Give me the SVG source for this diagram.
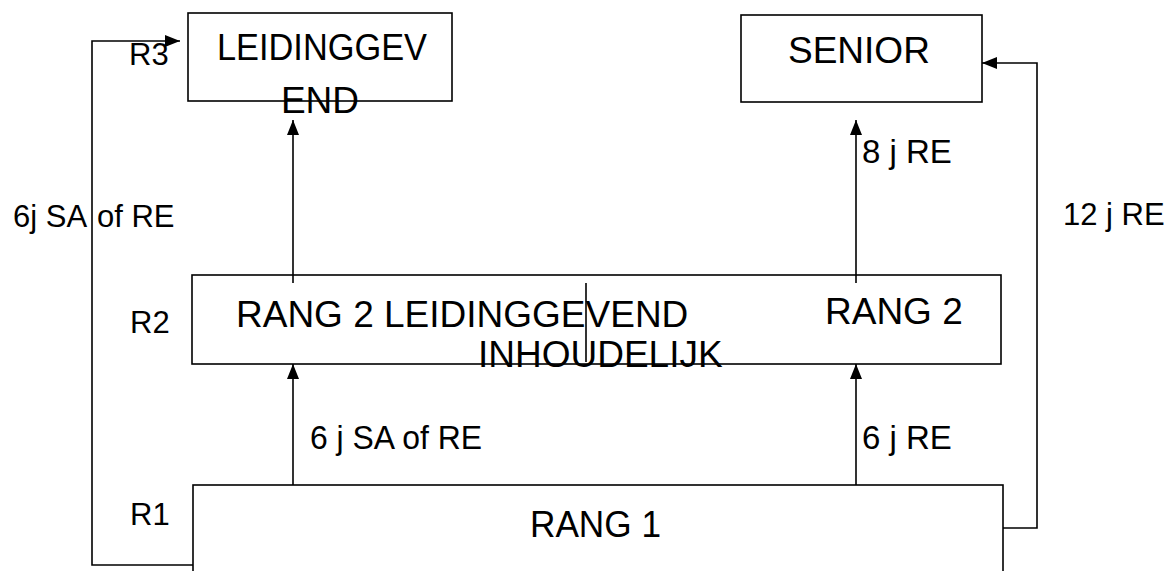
<svg xmlns="http://www.w3.org/2000/svg" width="1170" height="571" viewBox="0 0 1170 571">
  <style>
    .box { fill: #ffffff; stroke: #000000; stroke-width: 1.6; }
    .line { fill: none; stroke: #000000; stroke-width: 1.6; }
    .big { font-family: "Liberation Sans", Arial, sans-serif; font-size: 37px; fill: #000000; }
    .mid { text-anchor: middle; }
    .lbl { font-family: "Liberation Sans", Arial, sans-serif; font-size: 31px; fill: #000000; }
    .lbl2 { font-family: "Liberation Sans", Arial, sans-serif; font-size: 33px; fill: #000000; }
  </style>
  <defs>
    <marker id="head" viewBox="0 0 15 12" refX="15" refY="6" markerWidth="15" markerHeight="12" markerUnits="userSpaceOnUse" orient="auto">
      <path d="M0,0 L15,6 L0,12 Z" fill="#000000"/>
    </marker>
  </defs>

  <rect width="1170" height="571" fill="#ffffff"/>

  <!-- rank 3: management -->
  <g id="node-leidinggevend">
    <rect class="box" x="188" y="13" width="264" height="88"/>
    <text class="big mid" x="322" y="60" textLength="210" lengthAdjust="spacingAndGlyphs">LEIDINGGEV</text>
    <text class="big mid" x="320" y="113">END</text>
  </g>

  <!-- rank 3: senior -->
  <g id="node-senior">
    <rect class="box" x="741" y="15" width="241" height="87"/>
    <text class="big" x="788" y="63">SENIOR</text>
  </g>

  <!-- rank 2 -->
  <g id="node-rang2">
    <rect class="box" x="192" y="275" width="809" height="89"/>
    <text class="big" x="236" y="327">RANG 2 LEIDINGGEVEND</text>
    <text class="big" x="478" y="367">INHOUDELIJK</text>
    <text class="big" x="825" y="324">RANG 2</text>
    <line class="line" x1="586" y1="283" x2="586" y2="362"/>
  </g>

  <!-- rank 1 -->
  <g id="node-rang1">
    <rect class="box" x="193" y="485" width="810" height="110"/>
    <text class="big" x="530" y="537" textLength="131" lengthAdjust="spacingAndGlyphs">RANG 1</text>
  </g>

  <!-- rank labels -->
  <g id="rank-labels">
    <text class="lbl" x="129" y="65">R3</text>
    <text class="lbl" x="130" y="333">R2</text>
    <text class="lbl" x="130" y="525">R1</text>
  </g>

  <!-- promotion paths -->
  <g id="connectors">
    <polyline class="line" points="193,565 92,565 92,41 180,41" marker-end="url(#head)"/>
    <polyline class="line" points="1003,528 1037,528 1037,63 982,63" marker-end="url(#head)"/>
    <line class="line" x1="293" y1="485" x2="293" y2="364" marker-end="url(#head)"/>
    <line class="line" x1="293" y1="283" x2="293" y2="120" marker-end="url(#head)"/>
    <line class="line" x1="856" y1="485" x2="856" y2="364" marker-end="url(#head)"/>
    <line class="line" x1="856" y1="283" x2="856" y2="120" marker-end="url(#head)"/>

    <text class="lbl" x="13" y="227">6j SA</text>
    <text class="lbl" x="97" y="227">of RE</text>
    <text class="lbl" x="1063" y="225">12 j RE</text>
    <text class="lbl2" x="862" y="163">8 j RE</text>
    <text class="lbl2" x="310" y="449" textLength="172" lengthAdjust="spacingAndGlyphs">6 j SA of RE</text>
    <text class="lbl2" x="862" y="449">6 j RE</text>
  </g>
</svg>
